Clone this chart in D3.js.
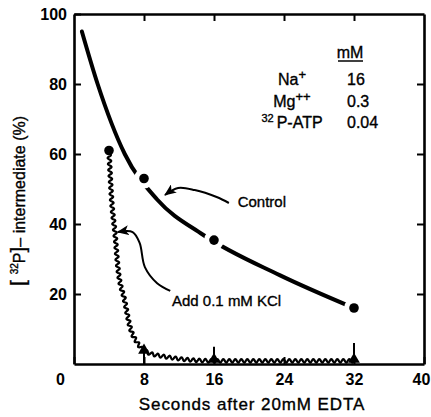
<!DOCTYPE html>
<html>
<head>
<meta charset="utf-8">
<script src="https://cdn.jsdelivr.net/npm/d3@7"></script>
<style>
  body { margin: 0; background: #fff; }
  svg text { font-family: "Liberation Sans", Arial, sans-serif; fill: #000; stroke: #000; stroke-width: 0.35px; }
</style>
</head>
<body>
<svg id="chart"></svg>
<script>
// Control: hand-drawn fit + measured points
const controlCurveX = [0.9, 2.7, 5.8, 9.5, 14.7, 23.5, 32];
const controlCurveY = [95, 80, 60, 47, 37, 25.4, 16];
const controlDotX = [8, 16, 32];
const controlDotY = [53, 35.4, 16];

// Add 0.1 mM KCl (wavy trace)
const kclLineX = [4, 4.3, 4.7, 5.0, 5.8, 6.4, 7.2, 8, 9.5, 16, 32];
const kclLineY = [61, 47, 37, 28, 18, 10.6, 6.2, 3.9, 2.5, 0.9, 0.9];
const kclDotX = [4];
const kclDotY = [61];
const kclTriX = [8, 16, 32];
const kclTriY = [3.9, 1.3, 1.3];
const kclBarLo = [0, 1.3, 1.3];
const kclBarHi = [3.9, 4.9, 6];

const xTicks = [0, 8, 16, 24, 32, 40];
const yTicks = [20, 40, 60, 80, 100];

// legend rows
const ionNames = ['Na', 'Mg', 'P-ATP'];
const ionSup = ['+', '++', ''];
const ionPre = ['', '', '32'];
const ionConc = ['16', '0.3', '0.04'];

// arrows (data units)
const controlArrow = [[10.4, 48.3], [11.9, 50.3], [13.8, 49.7], [16.3, 47.7], [17.7, 46]];
const kclArrow = [[5.0, 37.7], [6.7, 37.7], [7.5, 34.6], [8.1, 27.7], [9.5, 23.1], [11, 20.9]];

const w = 431;
const h = 417;
const margin = { top: 14, right: 7, bottom: 53, left: 74 };

const svg = d3.select('#chart').attr('width', w).attr('height', h);

const x = d3.scaleLinear().domain([0, 40]).range([margin.left, w - margin.right]);
const y = d3.scaleLinear().domain([0, 100]).range([h - margin.bottom, margin.top]);

svg.append('defs').append('marker')
  .attr('id', 'head')
  .attr('markerUnits', 'userSpaceOnUse')
  .attr('markerWidth', 12).attr('markerHeight', 10)
  .attr('refX', 11).attr('refY', 5)
  .attr('orient', 'auto-start-reverse')
  .append('path').attr('d', 'M0,0L12,5L0,10L3,5Z').attr('fill', '#000');

// axes
const styleAxis = (g) => {
  g.select('.domain').attr('stroke-width', 2.6);
  g.selectAll('.tick line').attr('stroke-width', 2);
  g.selectAll('.tick text').attr('font-size', 16).style('font-weight', 'bold').style('stroke-width', 0);
};

const xAxis = svg.append('g')
  .attr('transform', `translate(0,${y(0)})`)
  .call(d3.axisBottom(x).tickValues(xTicks).tickSize(-7).tickSizeOuter(0).tickPadding(10))
  .call(styleAxis);
xAxis.selectAll('.tick text').filter((d) => d === 0).attr('dx', -14);
xAxis.selectAll('.tick text').filter((d) => d === 40).attr('dx', -3);

svg.append('g')
  .attr('transform', `translate(${x(0)},0)`)
  .call(d3.axisLeft(y).tickValues(yTicks).tickSize(-7).tickSizeOuter(0).tickPadding(7))
  .call(styleAxis);

svg.append('g')
  .attr('transform', `translate(0,${y(100)})`)
  .call(d3.axisTop(x).tickValues([8, 16, 24, 32]).tickSize(-7).tickSizeOuter(0).tickFormat(''))
  .call(styleAxis);

svg.append('g')
  .attr('transform', `translate(${x(40)},0)`)
  .call(d3.axisRight(y).tickValues([20, 40, 60, 80]).tickSize(-7).tickSizeOuter(0).tickFormat(''))
  .call(styleAxis);

// axis titles
svg.append('text')
  .attr('x', (x(0) + x(40)) / 2 + 3)
  .attr('y', h - 7)
  .attr('text-anchor', 'middle')
  .attr('font-size', 17)
  .attr('letter-spacing', 0.9)
  .text('Seconds after 20mM EDTA');

const yt = svg.append('text')
  .attr('transform', `translate(25,${(y(0) + y(100)) / 2 + 12}) rotate(-90)`)
  .attr('text-anchor', 'middle')
  .attr('font-size', 16);
yt.append('tspan').attr('font-size', 21).text('[ ');
yt.append('tspan').attr('font-size', 10).attr('dy', -7).text('32');
yt.append('tspan').attr('dy', 7).text('P');
yt.append('tspan').attr('font-size', 21).text(']');
yt.append('tspan').text('– intermediate (%)');

// control curve
const line = d3.line().x((d) => x(d[0])).y((d) => y(d[1])).curve(d3.curveMonotoneX);
svg.append('path')
  .attr('d', line(d3.zip(controlCurveX, controlCurveY)))
  .attr('fill', 'none').attr('stroke', '#000').attr('stroke-width', 4).attr('stroke-linecap', 'round');

const ctrlPts = d3.zip(controlDotX, controlDotY);
svg.append('g').selectAll('circle').data(ctrlPts).enter().append('circle')
  .attr('cx', (d) => x(d[0])).attr('cy', (d) => y(d[1])).attr('r', 10).attr('fill', '#fff');
svg.append('g').selectAll('circle').data(ctrlPts).enter().append('circle')
  .attr('cx', (d) => x(d[0])).attr('cy', (d) => y(d[1])).attr('r', 4.8).attr('fill', '#000');

// wavy KCl trace
function wavy(pts, wl, amp) {
  const tmp = svg.append('path').attr('d', line(pts)).attr('fill', 'none');
  const node = tmp.node();
  const L = node.getTotalLength();
  const out = [];
  for (let s = 0; s <= L; s += 0.4) {
    const p = node.getPointAtLength(s);
    const a = node.getPointAtLength(Math.max(0, s - 0.6));
    const b = node.getPointAtLength(Math.min(L, s + 0.6));
    const dx = b.x - a.x, dy = b.y - a.y, n = Math.hypot(dx, dy) || 1;
    const off = amp * Math.sin((2 * Math.PI * s) / wl);
    out.push([p.x - (dy / n) * off, p.y + (dx / n) * off]);
  }
  tmp.remove();
  return out;
}
svg.append('path')
  .attr('d', d3.line()(wavy(d3.zip(kclLineX, kclLineY), 6, 1.7)))
  .attr('fill', 'none').attr('stroke', '#000').attr('stroke-width', 2.2);

svg.append('g').selectAll('line').data(d3.range(kclTriX.length)).enter().append('line')
  .attr('x1', (i) => x(kclTriX[i])).attr('x2', (i) => x(kclTriX[i]))
  .attr('y1', (i) => y(kclBarLo[i])).attr('y2', (i) => y(kclBarHi[i]))
  .attr('stroke', '#000').attr('stroke-width', 2);

svg.append('g').selectAll('path').data(d3.zip(kclTriX, kclTriY)).enter().append('path')
  .attr('transform', (d) => `translate(${x(d[0])},${y(d[1])})`)
  .attr('d', d3.symbol(d3.symbolTriangle, 60))
  .attr('fill', '#000');

svg.append('g').selectAll('circle').data(d3.zip(kclDotX, kclDotY)).enter().append('circle')
  .attr('cx', (d) => x(d[0])).attr('cy', (d) => y(d[1])).attr('r', 4.8).attr('fill', '#000');

// annotations
const arrowLine = d3.line().x((d) => x(d[0])).y((d) => y(d[1])).curve(d3.curveCatmullRom);
svg.append('path').attr('d', arrowLine(controlArrow))
  .attr('fill', 'none').attr('stroke', '#000').attr('stroke-width', 2).attr('marker-start', 'url(#head)');
svg.append('path').attr('d', arrowLine(kclArrow))
  .attr('fill', 'none').attr('stroke', '#000').attr('stroke-width', 2).attr('marker-start', 'url(#head)');

svg.append('text').attr('x', x(18.7)).attr('y', y(45)).attr('font-size', 15).text('Control');
svg.append('text').attr('x', x(11.2)).attr('y', y(16.6)).attr('font-size', 15).text('Add 0.1 mM KCl');

// legend table
const lg = svg.append('g');
lg.append('text').attr('x', 350).attr('y', 58).attr('text-anchor', 'middle').attr('font-size', 16).text('mM');
lg.append('line').attr('x1', 338).attr('x2', 363).attr('y1', 61).attr('y2', 61)
  .attr('stroke', '#000').attr('stroke-width', 1.5);
ionNames.forEach((name, i) => {
  const by = 85 + i * 21.5;
  const t = lg.append('text').attr('x', 292).attr('y', by).attr('text-anchor', 'middle').attr('font-size', 16);
  if (ionPre[i]) t.append('tspan').attr('font-size', 11).attr('dy', -6).text(ionPre[i] + ' ');
  t.append('tspan').attr('dy', ionPre[i] ? 6 : 0).text(name);
  if (ionSup[i]) t.append('tspan').attr('font-size', 13).attr('dy', -6).text(ionSup[i]);
  lg.append('text').attr('x', 347).attr('y', by).attr('font-size', 16).text(ionConc[i]);
});
</script>
</body>
</html>
